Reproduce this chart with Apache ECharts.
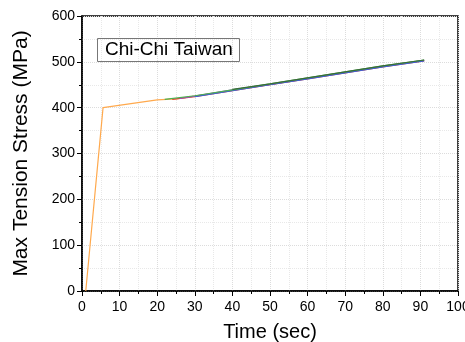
<!DOCTYPE html>
<html><head><meta charset="utf-8">
<script src="https://cdn.jsdelivr.net/npm/echarts@6/dist/echarts.min.js"></script>
<style>html,body{margin:0;padding:0;background:#fff}#c{width:465px;height:342px}</style>
</head><body><div id="c"></div>
<script>
const xTicks = [0,10,20,30,40,50,60,70,80,90,100];
const yTicks = [0,100,200,300,400,500,600];
const orangeT = [1, 5.6, 20, 25, 30, 40, 50, 60, 70, 80, 91];
const orangeV = [0, 400, 417, 419, 425, 438, 451, 464, 477, 490, 503];
const greenT = [22, 30, 40, 50, 60, 70, 80, 91];
const greenV = [418, 426, 439, 452, 465, 478, 491, 504];
const redT = [24, 30, 40, 50, 60, 70, 80, 91];
const redV = [418, 424, 437, 450, 463, 476, 489, 502];
const purpleT = [26, 30, 40, 50, 60, 70, 80, 91];
const purpleV = [420, 425, 439, 451, 464, 477, 490, 503];
const blueT = [30, 40, 50, 60, 70, 80, 91];
const blueV = [424, 437, 450, 463, 476, 489, 502];
const darkT = [40, 50, 60, 70, 80, 91];
const darkV = [440, 452, 465, 478, 491, 504];

function pts(t, v){ return t.map((x,i)=>[x, v[i]]); }
const seriesDefs = [
  {t: orangeT, v: orangeV, c: '#FFA94D'},
  {t: redT, v: redV, c: '#E0443A'},
  {t: purpleT, v: purpleV, c: '#9B4FC8'},
  {t: blueT, v: blueV, c: '#3B5FD9'},
  {t: greenT, v: greenV, c: '#4CAF50'},
  {t: darkT, v: darkV, c: '#3A6B3A'}
];
const chart = echarts.init(document.getElementById('c'), null, {renderer:'canvas'});
const FONT = 'Liberation Sans, Arial';
const axisCommon = {
  axisLine:{show:true, lineStyle:{color:'#000', width:1.5}},
  axisTick:{show:true, inside:false, length:5, lineStyle:{color:'#000', width:1}},
  minorTick:{show:true, splitNumber:2, length:3, lineStyle:{color:'#000'}},
  splitLine:{show:true, lineStyle:{color:'#dcdcdc', type:'dotted', width:1}},
  minorSplitLine:{show:true, lineStyle:{color:'#e8e8e8', type:'dotted', width:1}}
};
chart.setOption({
  animation:false,
  backgroundColor:'#fff',
  title:{text:'Chi-Chi Taiwan', left:97, top:38, padding:[2,7,3,8], borderColor:'#777', borderWidth:1,
    textStyle:{fontFamily:FONT, fontSize:19, fontWeight:'normal', color:'#000'}},
  grid:{left:82, right:7, top:16, bottom:51, show:true, borderColor:'#000', borderWidth:1.5,
    outerBoundsMode:'none', containLabel:false},
  xAxis:Object.assign({type:'value', min:0, max:100, interval:10, name:'Time (sec)', nameLocation:'middle', nameGap:31,
    nameTextStyle:{fontFamily:FONT, fontSize:20, color:'#000'}}, axisCommon,
    {axisLabel:{color:'#000', fontFamily:FONT, fontSize:14, margin:9, showMaxLabel:true}}),
  yAxis:Object.assign({type:'value', min:0, max:600, interval:100, name:'Max Tension Stress (MPa)', nameLocation:'middle', nameGap:50,
    nameTextStyle:{fontFamily:FONT, fontSize:21, color:'#000'}}, axisCommon,
    {axisLabel:{color:'#000', fontFamily:FONT, fontSize:14, margin:7}}),
  series: seriesDefs.map(s=>({type:'line', data:pts(s.t, s.v), showSymbol:false, symbol:'none',
    lineStyle:{color:s.c, width:1.2}, itemStyle:{color:s.c}}))
});
</script></body></html>
